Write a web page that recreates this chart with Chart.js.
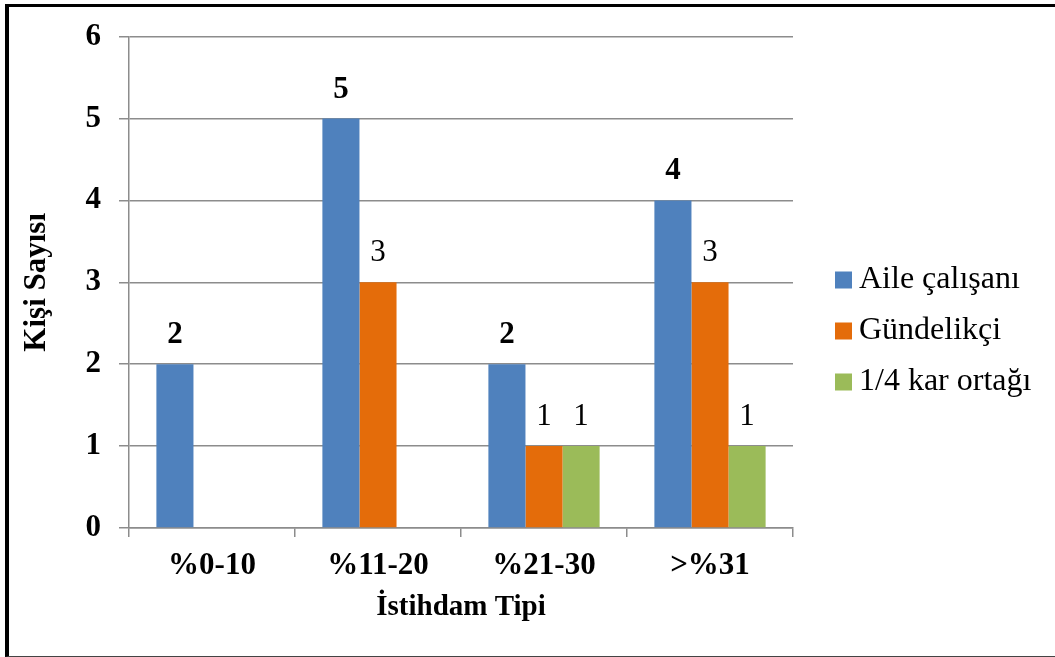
<!DOCTYPE html>
<html lang="tr">
<head>
<meta charset="utf-8">
<title>İstihdam Tipi</title>
<script src="https://cdn.jsdelivr.net/npm/chart.js@4.4.0/dist/chart.umd.min.js"></script>
<style>
  html, body { margin: 0; padding: 0; background: #fff; overflow: hidden; }
  #wrap { position: relative; width: 1055px; height: 657px; }
  #chart { position: absolute; left: 0; top: 0; }
  #frame {
    position: absolute; left: 5px; top: 4px; right: -10px; bottom: 0;
    border-left: 4px solid #000; border-top: 3px solid #000; border-bottom: 1px solid #444;
    pointer-events: none;
  }
</style>
</head>
<body>
<div id="wrap">
  <canvas id="chart" width="1055" height="657"></canvas>
  <div id="frame"></div>
</div>
<script>
const categories = ['%0-10', '%11-20', '%21-30', '>%31'];
const seriesNames = ['Aile çalışanı', 'Gündelikçi', '1/4 kar ortağı'];
const aileCalisani = [2, 5, 2, 4];
const gundelikci = [null, 3, 1, 3];
const karOrtagi = [null, null, 1, 1];
const yTickValues = [0, 1, 2, 3, 4, 5, 6];

const SERIF = '"Liberation Serif", "Times New Roman", serif';
const GRID = '#8c8c8c';
const colors = ['#4F81BD', '#E46C0A', '#9BBB59'];

// value labels above each bar; the first series is printed in bold
const barValueLabels = {
  id: 'barValueLabels',
  afterDatasetsDraw(chart) {
    const ctx = chart.ctx;
    ctx.save();
    ctx.fillStyle = '#000';
    ctx.textAlign = 'center';
    ctx.textBaseline = 'middle';
    chart.data.datasets.forEach((ds, di) => {
      const meta = chart.getDatasetMeta(di);
      ctx.font = (di === 0 ? 'bold ' : '') + '31px ' + SERIF;
      meta.data.forEach((bar, i) => {
        const v = ds.data[i];
        if (v === null || v === undefined) return;
        ctx.fillText(String(v), bar.x, bar.y - 29);
      });
    });
    ctx.restore();
  }
};

// legend at the right of the plot, one row per series
const sideLegend = {
  id: 'sideLegend',
  afterDraw(chart) {
    const ctx = chart.ctx;
    const area = chart.chartArea;
    const boxX = area.right + 42;
    const firstY = 280;
    const rowGap = 51;
    const box = 17;
    ctx.save();
    ctx.font = '32px ' + SERIF;
    ctx.textAlign = 'left';
    ctx.textBaseline = 'middle';
    chart.data.datasets.forEach((ds, i) => {
      const y = firstY + i * rowGap;
      ctx.fillStyle = ds.backgroundColor;
      ctx.fillRect(boxX, y - box / 2, box, box);
      ctx.fillStyle = '#000';
      ctx.fillText(ds.label, boxX + 24, y);
    });
    ctx.restore();
  }
};

const PAD = { left: 8, top: 35, right: 262, bottom: 8 };

new Chart(document.getElementById('chart'), {
  type: 'bar',
  data: {
    labels: categories,
    datasets: [
      { label: seriesNames[0], data: aileCalisani, backgroundColor: colors[0] },
      { label: seriesNames[1], data: gundelikci, backgroundColor: colors[1] },
      { label: seriesNames[2], data: karOrtagi, backgroundColor: colors[2] }
    ]
  },
  options: {
    responsive: false,
    animation: false,
    layout: { padding: PAD },
    datasets: { bar: { categoryPercentage: 0.67, barPercentage: 1.0, borderWidth: 0 } },
    plugins: {
      legend: { display: false },
      tooltip: { enabled: false }
    },
    scales: {
      x: {
        grid: {
          display: true, drawOnChartArea: false, drawTicks: true,
          tickLength: 9, color: GRID, lineWidth: 1.5, offset: true
        },
        border: { display: true, color: GRID, width: 1.5 },
        ticks: {
          color: '#000', padding: 10,
          font: { family: SERIF, size: 31, weight: 'bold' }
        },
        title: {
          display: true, text: 'İstihdam Tipi', color: '#000',
          font: { family: SERIF, size: 29, weight: 'bold' },
          padding: { top: 0, bottom: 24 }
        },
        afterFit(scale) { scale.height = 657 - 528 - PAD.bottom; }
      },
      y: {
        min: 0, max: 6,
        afterBuildTicks(scale) { scale.ticks = yTickValues.map(v => ({ value: v })); },
        grid: { color: GRID, lineWidth: 1.5, tickLength: 10, drawTicks: true },
        border: { display: true, color: GRID, width: 1.5 },
        ticks: {
          color: '#000', padding: 18,
          font: { family: SERIF, size: 31, weight: 'bold' }
        },
        title: {
          display: true, text: 'Kişi Sayısı', color: '#000',
          font: { family: SERIF, size: 31, weight: 'bold' },
          padding: { top: 10, bottom: 0 }
        },
        afterFit(scale) { scale.width = 129 - PAD.left; }
      }
    }
  },
  plugins: [barValueLabels, sideLegend]
});
</script>
</body>
</html>
